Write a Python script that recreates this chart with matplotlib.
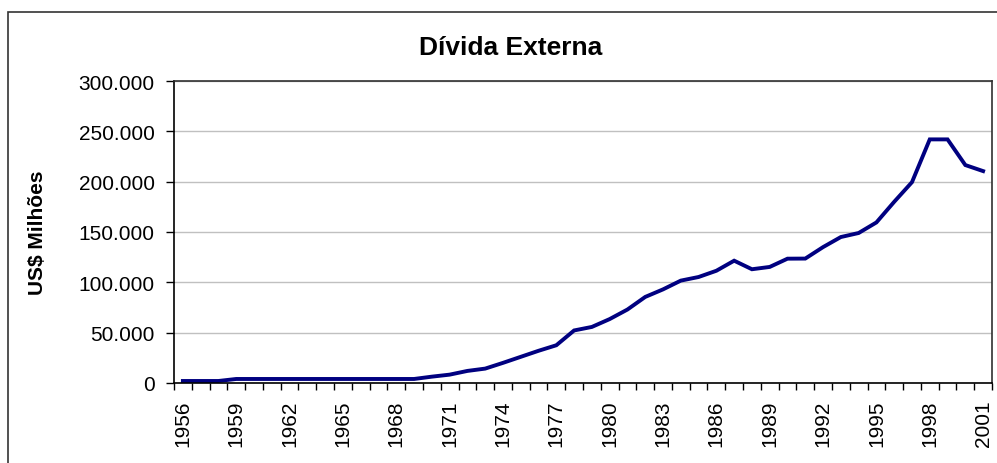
import matplotlib.pyplot as plt
import matplotlib.patches as patches
from matplotlib.ticker import FuncFormatter

plt.rcParams['font.family'] = ['Liberation Sans', 'DejaVu Sans']

# Dívida externa, US$ milhões
years = list(range(1956, 2002))
divida = [2000, 2000, 2000, 4000, 4000, 4000, 4000, 4000, 4000, 4000,
          4000, 4000, 4000, 4000, 6300, 8300, 12000, 14300, 20000, 26000,
          32000, 37500, 52200, 55700, 63500, 73000, 85500, 93000, 101700, 105300,
          111500, 121500, 113000, 115300, 123500, 123600, 135000, 145000, 149000, 159500,
          180000, 199500, 242000, 242000, 216500, 210500]

fig = plt.figure(figsize=(9.97, 4.64), dpi=100)

# moldura externa do gráfico
frame = patches.Rectangle((8 / 997, -0.2), 1.2, 0.2 + (464 - 13) / 464,
                          transform=fig.transFigure, fill=False,
                          edgecolor='#333333', linewidth=1.2)
fig.patches.append(frame)

ax = fig.add_axes([174 / 997, 80 / 464, 818 / 997, 302 / 464])

x = list(range(len(years)))
ax.plot(x, divida, color='#000080', linewidth=2.8, solid_joinstyle='miter')

ax.set_xlim(-0.5, len(years) - 0.5)
ax.set_ylim(0, 300000)
ax.set_yticks(range(0, 300001, 50000))
ax.yaxis.set_major_formatter(FuncFormatter(lambda v, p: f"{int(v):,}".replace(",", ".")))
ax.grid(axis='y', color='#c0c0c0', linewidth=1)
ax.set_axisbelow(True)

# marcas entre as categorias, rótulos a cada 3 anos
ax.set_xticks([i - 0.5 for i in range(len(years) + 1)])
ax.set_xticklabels([])
ax.set_xticks(x[::3], minor=True)
ax.set_xticklabels([str(y) for y in years[::3]], minor=True, rotation=90)
ax.tick_params(axis='x', which='major', direction='out', length=5, width=1)
ax.tick_params(axis='x', which='minor', length=0, pad=12, labelsize=15)
ax.tick_params(axis='y', direction='out', length=6, width=1, pad=8, labelsize=15)

for s in ax.spines.values():
    s.set_linewidth(1.2)
    s.set_color('black')
ax.spines['top'].set_color('#303030')
ax.spines['right'].set_color('#303030')

ax.set_ylabel("US$ Milhões", fontsize=15, fontweight='bold')
ax.yaxis.set_label_coords(-0.155, 0.5)
fig.text(0.512, 0.896, "Dívida Externa", fontsize=19, fontweight='bold',
         ha='center', va='center')

fig.savefig("out.png", dpi=100)
